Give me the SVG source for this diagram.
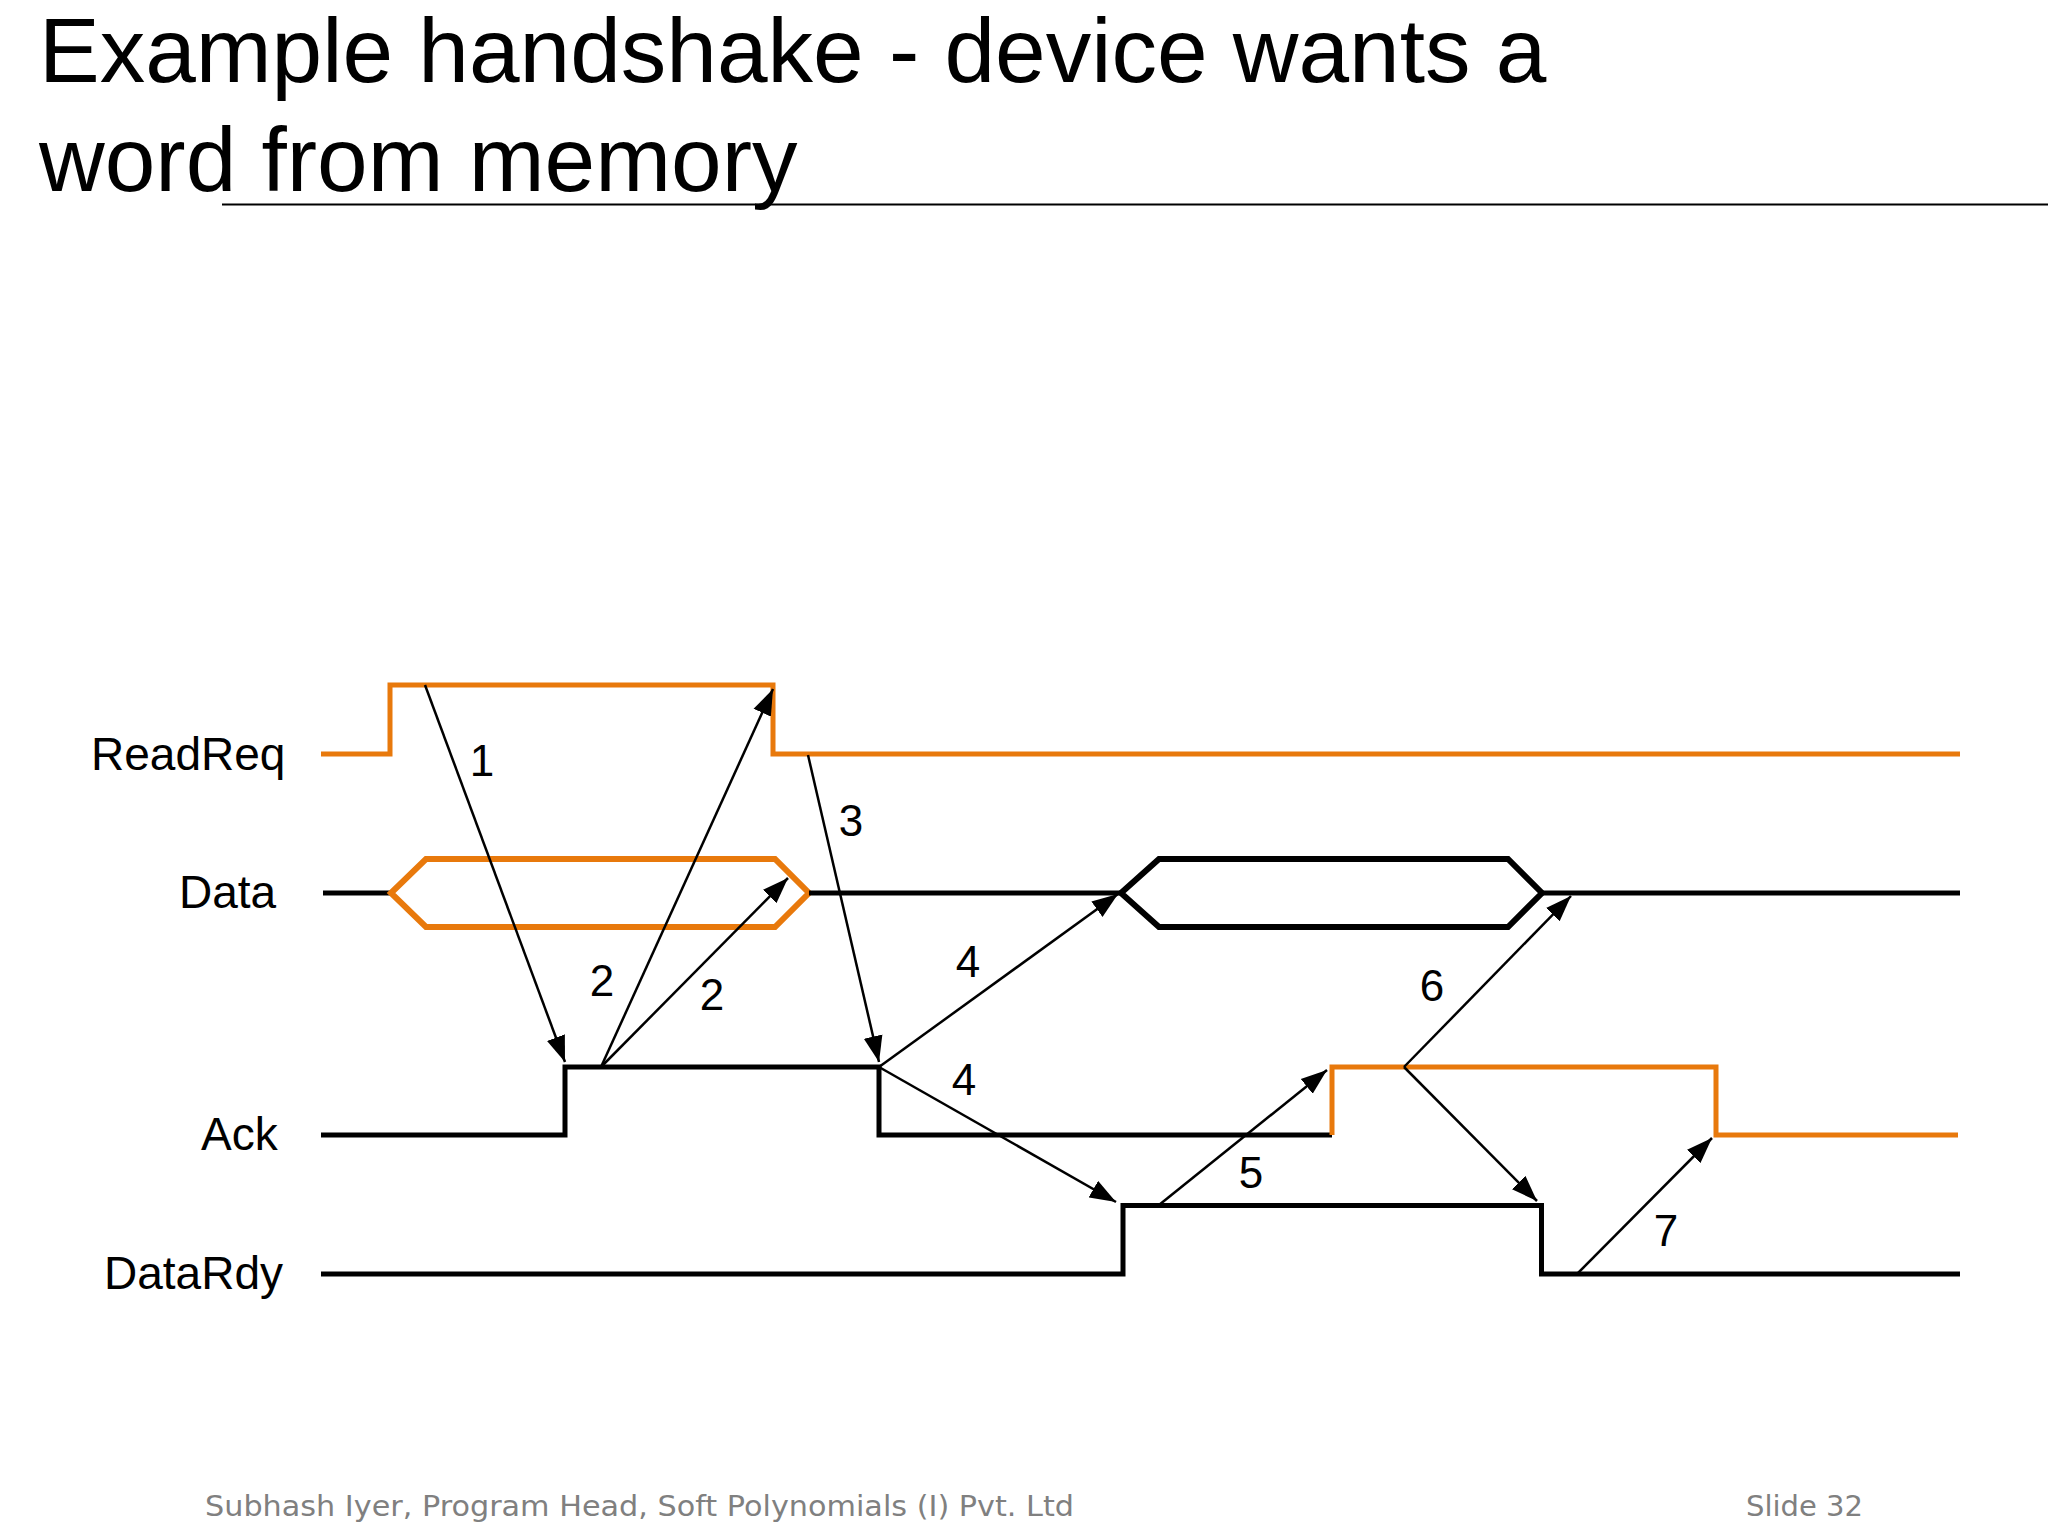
<svg xmlns="http://www.w3.org/2000/svg" width="2048" height="1536" viewBox="0 0 2048 1536">
<style>
.sig{fill:none;stroke-width:5;stroke-linejoin:miter;stroke-linecap:butt}
.hex{stroke-width:6}
.org{stroke:#E8790C}
.blk{stroke:#000}
.arr{fill:none;stroke:#000;stroke-width:2.5;marker-end:url(#ah)}
.lbl{font-family:"Liberation Sans",Arial,sans-serif;font-size:46px;fill:#000}
.num{font-family:"Liberation Sans",Arial,sans-serif;font-size:44px;fill:#000;text-anchor:middle}
.foot{font-family:"DejaVu Sans",Verdana,sans-serif;font-size:28px;fill:#808080}
</style>
<defs>
<marker id="ah" markerUnits="userSpaceOnUse" markerWidth="27" markerHeight="20" refX="26" refY="10" orient="auto">
<path d="M0,0.5 L26,10 L0,19.5 Z" fill="#000"/>
</marker>
</defs>
<rect width="2048" height="1536" fill="#fff"/>
<g id="title">
<text x="39" y="82" font-family="Liberation Sans,Arial,sans-serif" font-size="91" fill="#000">Example handshake - device wants a</text>
<text x="39" y="191" font-family="Liberation Sans,Arial,sans-serif" font-size="91" fill="#000">word from memory</text>
<line x1="222" y1="204.5" x2="2048" y2="204.5" stroke="#000" stroke-width="2"/>
</g>
<g id="labels">
<text class="lbl" x="91" y="770">ReadReq</text>
<text class="lbl" x="179" y="908">Data</text>
<text class="lbl" x="201" y="1150">Ack</text>
<text class="lbl" x="104" y="1289">DataRdy</text>
</g>
<g id="readreq">
<path class="sig org" d="M321,754 H390 V685 H773 V754 H1960"/>
</g>
<g id="data">
<path class="sig blk" d="M323,893 H391"/>
<path class="sig hex org" d="M391,893 L426,859 H775 L809,893 L775,927 H426 Z"/>
<path class="sig blk" d="M809,893 H1121"/>
<path class="sig hex blk" d="M1121,893 L1159,859 H1508 L1542,893 L1508,927 H1159 Z"/>
<path class="sig blk" d="M1542,893 H1960"/>
</g>
<g id="ack">
<path class="sig blk" d="M321,1135 H565 V1067 H879 V1135 H1332"/>
<path class="sig org" d="M1332,1135 V1067 H1716 V1135 H1958"/>
</g>
<g id="datardy">
<path class="sig blk" d="M321,1274 H1123 V1205.5 H1541.5 V1274 H1960"/>
</g>
<g id="connectors">
<line class="arr" x1="425" y1="685" x2="565" y2="1062"/>
<line class="arr" x1="601" y1="1067" x2="773" y2="689"/>
<line class="arr" x1="601" y1="1067" x2="788" y2="878"/>
<line class="arr" x1="808" y1="755" x2="879" y2="1062"/>
<line class="arr" x1="879" y1="1067" x2="1118" y2="894"/>
<line class="arr" x1="879" y1="1067" x2="1116" y2="1202"/>
<line class="arr" x1="1159" y1="1205" x2="1327" y2="1070"/>
<line class="arr" x1="1404" y1="1067" x2="1571" y2="896"/>
<line class="arr" x1="1404" y1="1067" x2="1537" y2="1201"/>
<line class="arr" x1="1577" y1="1274" x2="1712" y2="1138"/>
</g>
<g id="numbers">
<text class="num" x="482" y="776">1</text>
<text class="num" x="602" y="996">2</text>
<text class="num" x="712" y="1010">2</text>
<text class="num" x="851" y="836">3</text>
<text class="num" x="968" y="977">4</text>
<text class="num" x="964" y="1095">4</text>
<text class="num" x="1251" y="1188">5</text>
<text class="num" x="1432" y="1001">6</text>
<text class="num" x="1666" y="1246">7</text>
</g>
<g id="footer">
<text class="foot" x="205" y="1516" textLength="869" lengthAdjust="spacingAndGlyphs">Subhash Iyer, Program Head, Soft Polynomials (I) Pvt. Ltd</text>
<text class="foot" x="1746" y="1516" textLength="117" lengthAdjust="spacingAndGlyphs">Slide 32</text>
</g>
</svg>
